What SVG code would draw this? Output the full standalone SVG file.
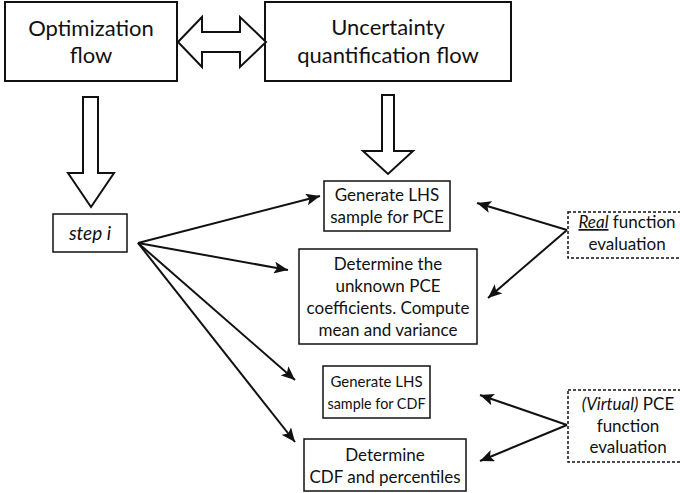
<svg xmlns="http://www.w3.org/2000/svg" width="680" height="493" viewBox="0 0 680 493">
<style>
text{font-family:Lato,"Liberation Sans",sans-serif;fill:#111;text-anchor:middle}
.t{font-size:22px}
.b{font-size:17px}
.s{font-size:16px}
.box{fill:#fff;stroke:#111;stroke-width:1.5}
.big{fill:#fff;stroke:#111;stroke-width:2}
.dash{fill:#fff;stroke:#111;stroke-width:1.5;stroke-dasharray:3 2}
.hollow{fill:#fff;stroke:#111;stroke-width:2;stroke-linejoin:miter}
.con{stroke:#111;stroke-width:2;fill:none;marker-end:url(#ah)}
</style>
<defs>
<marker id="ah" markerWidth="8" markerHeight="6" refX="7" refY="3" orient="auto" markerUnits="strokeWidth">
<path d="M0,0 L7,3 L0,6 L1.6,3 z" fill="#111"/>
</marker>
</defs>
<g id="opt"><rect class="big" x="5" y="2" width="172" height="79"/><text class="t" x="91" y="36">Optimization</text><text class="t" x="91" y="63">flow</text></g>
<g id="uq"><rect class="big" x="265" y="2" width="246" height="79"/><text class="t" x="388" y="35">Uncertainty</text><text class="t" x="388" y="63">quantification flow</text></g>
<g id="dbl"><polygon class="hollow" points="178,42 202,17 202,32 240,32 240,17 266,42 240,67 240,52 202,52 202,67"/></g>
<g id="downL"><polygon class="hollow" points="83,97 98,97 98,173 114,173 91,207 68,173 83,173"/></g>
<g id="downR"><polygon class="hollow" points="382,95 394,95 394,151 413,151 388,174 363,151 382,151"/></g>
<g id="step"><rect class="box" x="53" y="214" width="74" height="38"/><text x="90" y="240" font-size="19" font-style="italic">step i</text></g>
<g id="gpce"><rect class="box" x="324" y="181" width="126" height="50"/><text class="b" x="387" y="201">Generate LHS</text><text class="b" x="387" y="223">sample for PCE</text></g>
<g id="det"><rect class="box" x="299" y="249" width="178" height="95"/><text class="b" x="388" y="270">Determine the</text><text class="b" x="388" y="292">unknown PCE</text><text class="b" x="388" y="314">coefficients. Compute</text><text class="b" x="388" y="336">mean and variance</text></g>
<g id="gcdf"><rect class="box" x="323" y="366" width="107" height="52"/><text class="s" x="376.5" y="387" textLength="92" lengthAdjust="spacingAndGlyphs">Generate LHS</text><text class="s" x="376.5" y="409" textLength="98" lengthAdjust="spacingAndGlyphs">sample for CDF</text></g>
<g id="dcdf"><rect class="box" x="304" y="439" width="162" height="52"/><text class="b" x="385" y="461">Determine</text><text class="b" x="385" y="483">CDF and percentiles</text></g>
<g id="real"><rect class="dash" x="568" y="212" width="130" height="46"/><text class="b" x="627" y="228"><tspan font-style="italic" text-decoration="underline">Real</tspan> function</text><text class="b" x="627" y="250">evaluation</text></g>
<g id="virt"><rect class="dash" x="568" y="390" width="130" height="72"/><text class="b" x="628" y="410"><tspan font-style="italic">(Virtual)</tspan> PCE</text><text class="b" x="628" y="432">function</text><text class="b" x="628" y="453">evaluation</text></g>
<g id="connectors">
<line class="con" x1="138" y1="243" x2="320" y2="196"/>
<line class="con" x1="138" y1="243" x2="288" y2="270"/>
<line class="con" x1="138" y1="243" x2="295" y2="380"/>
<line class="con" x1="138" y1="243" x2="295" y2="442"/>
<line class="con" x1="567" y1="230" x2="477" y2="203"/>
<line class="con" x1="567" y1="230" x2="488" y2="298"/>
<line class="con" x1="567" y1="425" x2="480" y2="395"/>
<line class="con" x1="567" y1="425" x2="480" y2="461"/>
</g>
</svg>
